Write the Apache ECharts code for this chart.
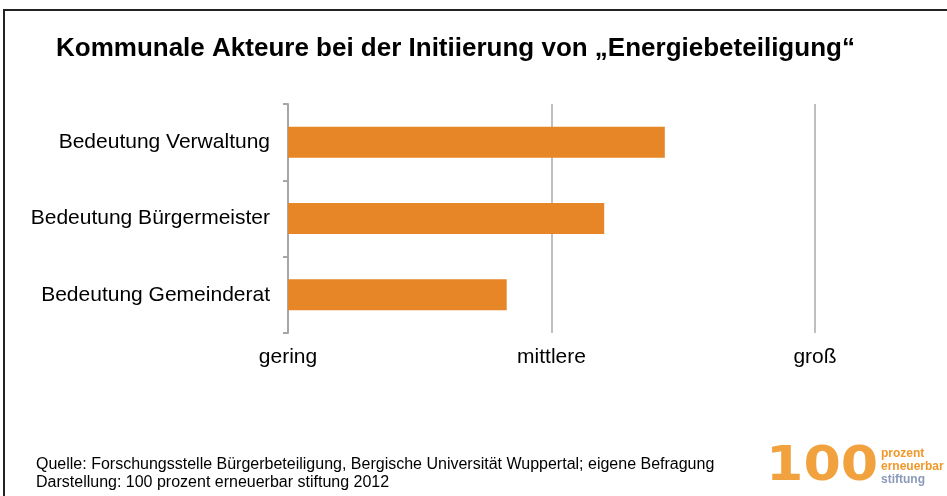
<!DOCTYPE html>
<html>
<head>
<meta charset="utf-8">
<script src="https://cdn.jsdelivr.net/npm/echarts@6/dist/echarts.min.js"></script>
<style>
  html, body { margin: 0; padding: 0; background: #fff; }
  #chart { width: 947px; height: 496px; }
</style>
</head>
<body>
<div id="chart"></div>
<script>
// data
const categories = ['Bedeutung Verwaltung', 'Bedeutung Bürgermeister', 'Bedeutung Gemeinderat'];
const values = [1.43, 1.20, 0.83];
const levelLabels = ['gering', 'mittlere', 'groß'];

const font = '"Liberation Sans", Arial, sans-serif';
const chart = echarts.init(document.getElementById('chart'));

chart.setOption({
  animation: false,
  backgroundColor: '#fff',
  title: {
    text: 'Kommunale Akteure bei der Initiierung von „Energiebeteiligung“',
    left: 51,
    top: 31,
    textStyle: { fontFamily: font, fontSize: 26, fontWeight: 'bold', color: '#000' },
  },
  grid: { left: 288, right: 132, top: 104, bottom: 163 },
  xAxis: {
    type: 'value',
    min: 0,
    max: 2,
    interval: 1,
    axisLine: { show: false },
    axisTick: { show: false },
    axisLabel: {
      margin: 14,
      fontFamily: font,
      fontSize: 21,
      color: '#000',
      formatter: (v) => levelLabels[v],
    },
    splitLine: { show: true, showMinLine: false, lineStyle: { color: '#aaaaaa', width: 1.5 } },
  },
  yAxis: {
    type: 'category',
    inverse: true,
    data: categories,
    axisLine: { show: true, lineStyle: { color: '#a6a6a6', width: 2 } },
    axisTick: { show: true, length: 5, lineStyle: { color: '#a6a6a6', width: 2 } },
    axisLabel: { margin: 18, fontFamily: font, fontSize: 21, color: '#000' },
  },
  series: [{
    type: 'bar',
    data: values,
    barWidth: 31,
    itemStyle: { color: '#E68626' },
  }],
  graphic: [
    {
      type: 'polyline',
      shape: { points: [[4, 496], [4, 10], [947, 10]] },
      style: { stroke: '#222', lineWidth: 2, fill: null },
    },
    {
      type: 'text',
      left: 36,
      top: 456,
      style: {
        text: 'Quelle: Forschungsstelle Bürgerbeteiligung, Bergische Universität Wuppertal; eigene Befragung\nDarstellung: 100 prozent erneuerbar stiftung 2012',
        font: '16px ' + font,
        fill: '#000',
        lineHeight: 18,
      },
    },
    {
      type: 'text',
      x: 766,
      y: 444,
      scaleX: 1.12,
      style: { text: '100', font: 'bold 48px "DejaVu Sans", sans-serif', fill: '#F0982A', opacity: 0.9 },
    },
    {
      type: 'text',
      left: 881,
      top: 447,
      style: {
        text: '{o|prozent}\n{o|erneuerbar}\n{b|stiftung}',
        lineHeight: 13,
        rich: {
          o: { font: 'bold 12px ' + font, fill: '#F0982A', lineHeight: 13 },
          b: { font: 'bold 12px ' + font, fill: '#8A9AB8', lineHeight: 13 },
        },
      },
    },
  ],
});
</script>
</body>
</html>
